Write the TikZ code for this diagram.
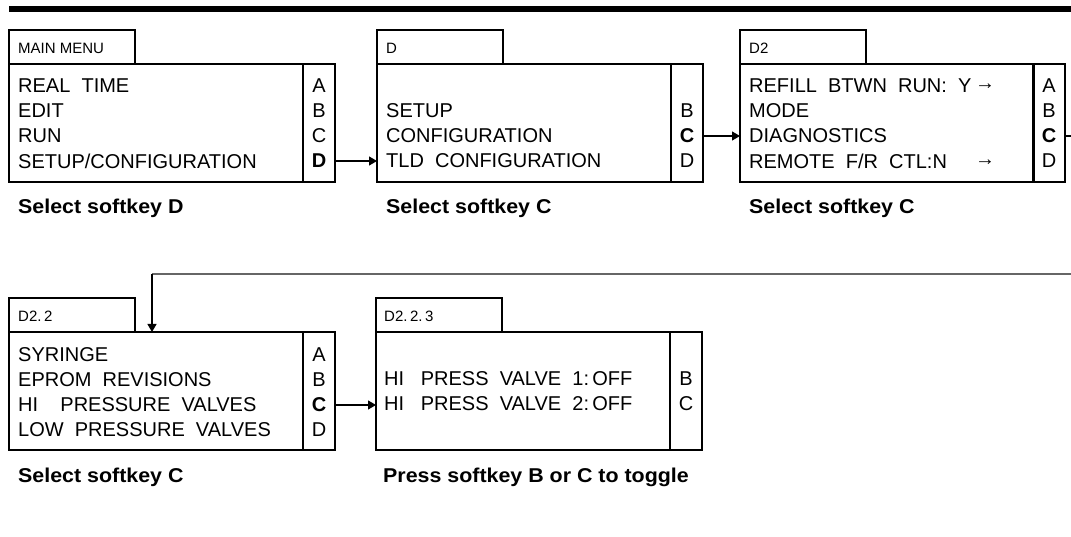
\documentclass[tikz,border=0pt]{standalone}
\usepackage{fontspec}
\usepackage{graphicx}
\setmainfont{Liberation Sans}
\usetikzlibrary{arrows.meta}
\begin{document}
\begin{tikzpicture}[x=1pt,y=-1pt,
  frame/.style={draw, line width=1.2pt, inner sep=0pt, outer sep=0pt, anchor=north west},
  tabbox/.style={frame, minimum width=126pt, minimum height=34pt},
  menubox/.style={frame, minimum width=294pt, minimum height=118pt},
  keybox/.style={frame, minimum width=32pt, minimum height=118pt},
  tabtxt/.style={anchor=west, inner sep=0pt, font=\fontsize{15}{15}\selectfont},
  item/.style={anchor=west, inner sep=0pt, font=\fontsize{20}{20}\selectfont},
  key/.style={anchor=center, inner sep=0pt, font=\fontsize{20}{20}\selectfont},
  caption/.style={anchor=base west, inner sep=0pt, font=\fontsize{20}{20}\selectfont\bfseries},
  link/.style={line width=1.2pt, -{Triangle[length=8pt,width=9pt]}},
  plain/.style={line width=1.2pt},
  graylink/.style={line width=1.4pt, draw=black!60}
]
\useasboundingbox (0,0) rectangle (1071,537);
\draw[line width=6pt] (9,9) -- (1071,9);

% ---------- Box 1: MAIN MENU ----------
\node[tabbox] (tab1) at (9,30) {};
\node[tabtxt] (t1) at (18,48) {MAIN MENU};
\node[menubox] (menu1) at (9,64) {};
\node[keybox] (key1) at (303,64) {};
\node[item] (a1) at (18,86) {REAL\ \ TIME};
\node[item] (b1) at (18,111) {EDIT};
\node[item] (c1) at (18,136) {RUN};
\node[item] (d1) at (18,161) {SETUP/CONFIGURATION};
\node[key] (ka1) at (319,86) {A};
\node[key] (kb1) at (319,111) {B};
\node[key] (kc1) at (319,136) {C};
\node[key] (kd1) at (319,161) {\bfseries D};
\node[caption] (cap1) at (18,214) {\scalebox{1.07}[1]{Select softkey D}};

% ---------- Box 2: D ----------
\node[tabbox] (tab2) at (377,30) {};
\node[tabtxt] (t2) at (386,48) {D};
\node[menubox] (menu2) at (377,64) {};
\node[keybox] (key2) at (671,64) {};
\node[item] (b2) at (386,111) {SETUP};
\node[item] (c2) at (386,136) {CONFIGURATION};
\node[item] (d2) at (386,161) {TLD\ \ CONFIGURATION};
\node[key] (kb2) at (687,111) {B};
\node[key] (kc2) at (687,136) {\bfseries C};
\node[key] (kd2) at (687,161) {D};
\node[caption] (cap2) at (386,214) {\scalebox{1.07}[1]{Select softkey C}};

% ---------- Box 3: D2 ----------
\node[tabbox] (tab3) at (740,30) {};
\node[tabtxt] (t3) at (749,48) {D2};
\node[menubox] (menu3) at (740,64) {};
\node[keybox] (key3) at (1033,64) {};
\node[item] (a3) at (749,86) {\makebox[226pt][l]{REFILL\ \ BTWN\ \ RUN:\ \ Y}\raisebox{3pt}{→}};
\node[item] (b3) at (749,111) {MODE};
\node[item] (c3) at (749,136) {DIAGNOSTICS};
\node[item] (d3) at (749,161) {\makebox[226pt][l]{REMOTE\ \ F/R\ \ CTL:N}\raisebox{3pt}{→}};
\node[key] (ka3) at (1049,86) {A};
\node[key] (kb3) at (1049,111) {B};
\node[key] (kc3) at (1049,136) {\bfseries C};
\node[key] (kd3) at (1049,161) {D};
\node[caption] (cap3) at (749,214) {\scalebox{1.07}[1]{Select softkey C}};

% ---------- Box 4: D2.2 ----------
\node[tabbox] (tab4) at (9,298) {};
\node[tabtxt] (t4) at (18,316) {D2.\,2};
\node[menubox] (menu4) at (9,332) {};
\node[keybox] (key4) at (303,332) {};
\node[item] (a4) at (18,355) {SYRINGE};
\node[item] (b4) at (18,380) {EPROM\ \ REVISIONS};
\node[item] (c4) at (18,405) {HI\ \ \ \ PRESSURE\ \ VALVES};
\node[item] (d4) at (18,430) {LOW\ \ PRESSURE\ \ VALVES};
\node[key] (ka4) at (319,355) {A};
\node[key] (kb4) at (319,380) {B};
\node[key] (kc4) at (319,405) {\bfseries C};
\node[key] (kd4) at (319,430) {D};
\node[caption] (cap4) at (18,482) {\scalebox{1.07}[1]{Select softkey C}};

% ---------- Box 5: D2.2.3 ----------
\node[tabbox] (tab5) at (376,298) {};
\node[tabtxt] (t5) at (384,316) {D2.\,2.\,3};
\node[menubox] (menu5) at (376,332) {};
\node[keybox] (key5) at (670,332) {};
\node[item] (b5) at (384,379) {HI\ \ \ PRESS\ \ VALVE\ \ 1:\,OFF};
\node[item] (c5) at (384,404) {HI\ \ \ PRESS\ \ VALVE\ \ 2:\,OFF};
\node[key] (kb5) at (686,379) {B};
\node[key] (kc5) at (686,404) {C};
\node[caption] (cap5) at (383,482) {\scalebox{1.07}[1]{Press softkey B or C to toggle}};

% ---------- Connectors ----------
\draw[link] (key1.east |- kd1) -- (menu2.west |- kd1);
\draw[link] (key2.east |- kc2) -- (menu3.west |- kc2);
\coordinate (exit3) at (1071,136);
\draw[plain] (key3.east |- kc3) -- (exit3);
\coordinate (loopR) at (1071,274);
\coordinate (loopL) at (152,274);
\draw[graylink] (loopR) -- (loopL);
\draw[link] (loopL) -- (loopL |- menu4.north);
\draw[link] (key4.east |- kc4) -- (menu5.west |- kc4);
\end{tikzpicture}
\end{document}
